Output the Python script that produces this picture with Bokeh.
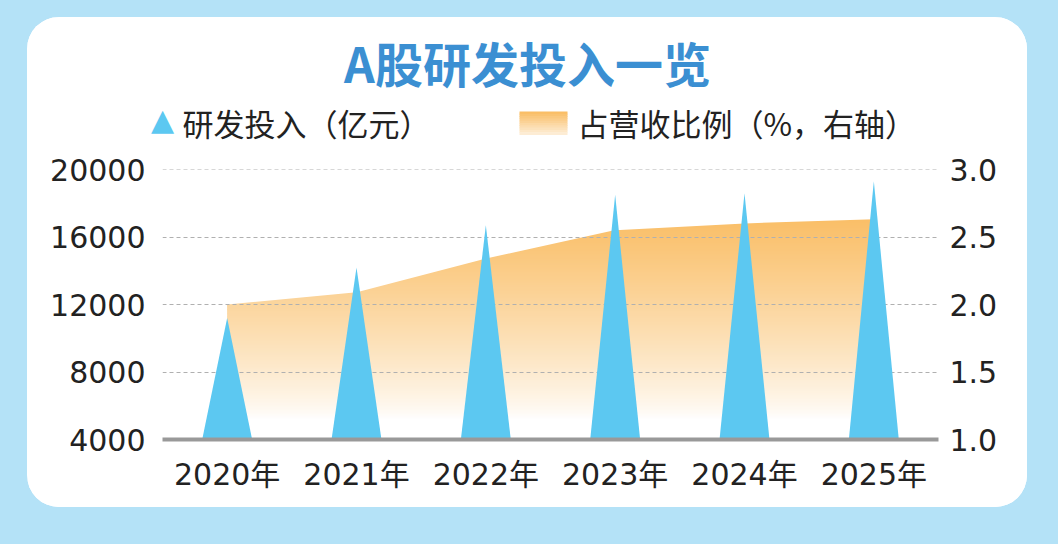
import numpy as np
from bokeh.plotting import figure
from bokeh.layouts import column
from bokeh.models import (Range1d, LinearAxis, FixedTicker, PrintfTickFormatter,
                          BoxAnnotation, Label)
from bokeh.embed import file_html
from bokeh.resources import INLINE

# ---- data ----
years = ["2020年", "2021年", "2022年", "2023年", "2024年", "2025年"]
rd_invest = [11200, 14200, 16700, 18500, 18600, 19300]      # 研发投入（亿元）
rd_ratio = [2.01, 2.10, 2.35, 2.56, 2.61, 2.64]              # 占营收比例（%）
left_ticks = [4000, 8000, 12000, 16000, 20000]
right_ticks = [1.0, 1.5, 2.0, 2.5, 3.0]

BG = "#b4e2f7"
BLUE = "#5cc8f1"
TXT = "#222222"
NUM_FONT = "DejaVu Sans, Noto Sans CJK SC"
CJK_FONT = "Noto Sans CJK SC"
orange = np.array([250, 190, 102])
white = np.array([255, 255, 255])


def mix(t):
    c = (white * (1 - t) + orange * t).astype(int)
    return "#%02x%02x%02x" % tuple(c)


PW, HH = 1000, 134          # panel width, header height

# ---------------- header (title + legend) ----------------
h = figure(width=PW, height=HH, x_range=Range1d(0, PW), y_range=Range1d(HH, 0),
           output_backend="svg", toolbar_location=None, min_border=0,
           x_axis_location=None, y_axis_location=None, outline_line_color=None,
           background_fill_color="white", border_fill_color="white")
h.frame_align = False
for g in h.grid:
    g.visible = False

h.add_layout(Label(x=500, y=44, text="A股研发投入一览", text_align="center",
                   text_baseline="middle", text_font=CJK_FONT, text_font_size="48px",
                   text_font_style="bold", text_color="#3b8fd2"))
h.add_layout(Label(x=135, y=102, text="▲", text_align="center", text_baseline="middle",
                   text_font="DejaVu Sans", text_font_size="30px", text_color=BLUE))
h.add_layout(Label(x=155, y=105, text="研发投入（亿元）", text_align="left",
                   text_baseline="middle", text_font=CJK_FONT, text_font_size="31px",
                   text_color=TXT))
nstrip = 10
for k in range(nstrip):
    t = 1 - k / nstrip * 0.8
    h.add_layout(BoxAnnotation(left=492, right=540, top=94 + k * 23 / nstrip,
                               bottom=94 + (k + 1) * 23 / nstrip + 0.6,
                               fill_color=mix(t), fill_alpha=1, line_color=None))
h.add_layout(Label(x=550, y=105, text="占营收比例（%，右轴）", text_align="left",
                   text_baseline="middle", text_font=CJK_FONT, text_font_size="31px",
                   text_color=TXT))

# ---------------- main chart ----------------
xi = list(range(len(years)))
p = figure(width=PW, height=490 - HH, x_range=Range1d(-0.5, 5.5),
           y_range=Range1d(left_ticks[0], left_ticks[-1]),
           output_backend="svg", toolbar_location=None,
           min_border_left=135, min_border_right=89, min_border_top=18, min_border_bottom=68,
           border_fill_color="white", background_fill_color="white", outline_line_color=None)
p.frame_align = False
p.extra_y_ranges = {"right": Range1d(right_ticks[0], right_ticks[-1])}
for g in p.grid:
    g.visible = False

# gradient area: horizontal colour bands, then a white mask above the curve
step = 0.01
b = np.arange(1.0, 2.70, step)
cols = [mix(np.clip((v - 1.15) / (2.65 - 1.15), 0, 1) ** 0.8) for v in b]
p.quad(left=xi[0], right=xi[-1], bottom=b, top=b + step * 1.6, fill_color=cols,
       line_color=None, y_range_name="right")
top = p.extra_y_ranges["right"].end
p.patch(x=xi + xi[::-1], y=rd_ratio + [top] * len(xi), fill_color="white",
        line_color="white", line_width=2.5, y_range_name="right")

# gridlines
p.hspan(y=left_ticks[1:], line_color="#b0b0b0", line_width=1, line_dash="4 3")

# spikes
hw = 0.193
xs = [[i - hw, i, i + hw] for i in xi]
ys = [[left_ticks[0], v, left_ticks[0]] for v in rd_invest]
p.patches(xs, ys, fill_color=BLUE, line_color=None)


def style_axis(a, standoff):
    a.major_tick_line_color = None
    a.minor_tick_line_color = None
    a.major_tick_out = 0
    a.major_tick_in = 0
    a.major_label_standoff = standoff
    a.major_label_text_font = NUM_FONT
    a.major_label_text_font_size = "30px"
    a.major_label_text_color = TXT


xa = p.xaxis[0]
xa.ticker = FixedTicker(ticks=xi)
xa.major_label_overrides = {i: y for i, y in zip(xi, years)}
xa.axis_line_color = "#999999"
xa.axis_line_width = 4
style_axis(xa, 17)

ya = p.yaxis[0]
ya.ticker = FixedTicker(ticks=left_ticks)
ya.axis_line_color = None
style_axis(ya, 17)

ra = LinearAxis(y_range_name="right", ticker=FixedTicker(ticks=right_ticks),
                formatter=PrintfTickFormatter(format="%.1f"))
ra.axis_line_color = None
style_axis(ra, 11)
p.add_layout(ra, "right")

inner = column(h, p, spacing=0, margin=(17, 31, 37, 27),
               styles={"background-color": "white", "border-radius": "32px",
                       "overflow": "hidden"})
page = column(inner, spacing=0, width=1058, height=544,
              styles={"background-color": BG})

open("out.html", "w").write(file_html(page, INLINE))
